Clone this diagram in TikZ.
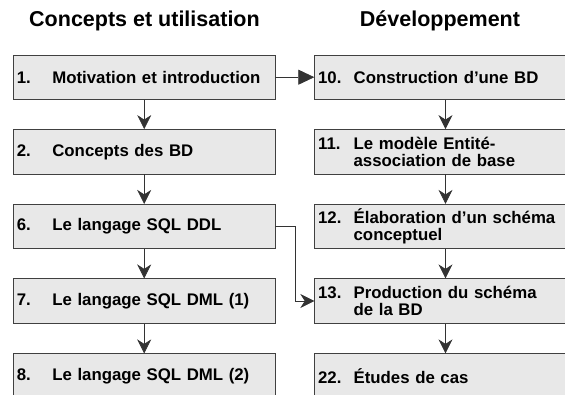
\documentclass[tikz,border=0pt]{standalone}
\usepackage{fontspec}
\setmainfont{Liberation Sans}
\usetikzlibrary{arrows.meta}

\newcommand{\lessontext}[2]{\makebox[35.5pt][l]{#1}\parbox[t]{210pt}{#2}}

\begin{document}
\begin{tikzpicture}[x=1pt, y=-1pt, >={Stealth[length=14pt, width=14pt, inset=4.5pt]},
  lesson/.style={rectangle, draw=black!75, fill=black!9, line width=0.7pt, minimum height=44.5pt,
    text width=254.7pt, inner xsep=3.5pt, inner ysep=0pt, align=left,
    font=\fontsize{16.8}{17.5}\selectfont\bfseries},
  heading/.style={anchor=base, font=\fontsize{21.5}{24}\selectfont\bfseries},
  edge/.style={->, line width=0.7pt, draw=black!80},
  jump/.style={-{Triangle[length=16pt, width=15pt]}, line width=0.7pt, draw=black!80}
]
\clip (0,0) rectangle (565,394);
\node[heading] (h1) at (144.5,26) {Concepts et utilisation};
\node[heading] (h2) at (440,26) {Développement};
% left column
\node[lesson] (n1) at (144.2,77.2) {\lessontext{1.}{Motivation et introduction}};
\node[lesson] (n2) at (144.2,151.7) {\lessontext{2.}{Concepts des BD}};
\node[lesson] (n6) at (144.2,226.5) {\lessontext{6.}{Le langage SQL DDL}};
\node[lesson] (n7) at (144.2,301) {\lessontext{7.}{Le langage SQL DML (1)}};
\node[lesson] (n8) at (144.2,376) {\lessontext{8.}{Le langage SQL DML (2)}};
% right column
\node[lesson] (n10) at (445.5,77.2) {\lessontext{10.}{Construction d’une BD}};
\node[lesson] (n11) at (445.5,151.7) {\lessontext{11.}{Le modèle Entité-\\association de base}};
\node[lesson] (n12) at (445.5,226.5) {\lessontext{12.}{Élaboration d’un schéma\\conceptuel}};
\node[lesson] (n13) at (445.5,301) {\lessontext{13.}{Production du schéma\\de la BD}};
\node[lesson] (n22) at (445.5,376) {\lessontext{22.}{Études de cas}};
\draw[jump] (n1) -- (n10);
\draw[edge] (n1) -- (n2);
\draw[edge] (n2) -- (n6);
\draw[edge] (n6) -- (n7);
\draw[edge] (n7) -- (n8);
\draw[edge] (n10) -- (n11);
\draw[edge] (n11) -- (n12);
\draw[edge] (n12) -- (n13);
\draw[edge] (n13) -- (n22);
\draw[edge] (n6.east) -- ++(20,0) |- (n13.west);
\end{tikzpicture}
\end{document}
